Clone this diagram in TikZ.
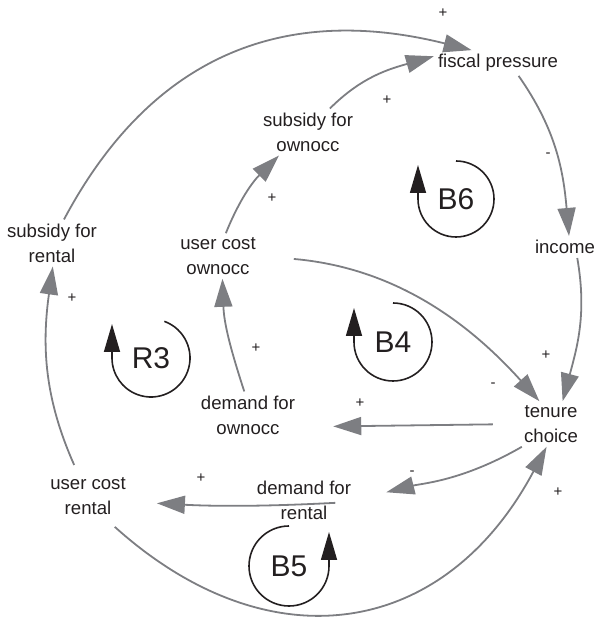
\documentclass[tikz,border=0pt]{standalone}
\usepackage{fontspec}
\setmainfont{Liberation Sans}
\usetikzlibrary{arrows.meta}
\definecolor{linkgray}{RGB}{125,126,130}
\definecolor{ink}{RGB}{35,31,32}

\tikzset{
  var/.style={align=center, inner sep=4pt, text=ink, font=\fontsize{18.6}{25}\selectfont},
  link/.style={draw=linkgray, line width=1.8pt, -{Triangle[length=28pt,width=18pt]}},
  pol/.style={text=ink, font=\fontsize{15}{15}\selectfont},
  loopsign/.style={text=ink, font=\fontsize{30}{30}\selectfont},
  looparrow/.style={draw=ink, line width=1.6pt, -{Triangle[length=28pt,width=16pt]}}
}

\begin{document}
\begin{tikzpicture}[x=1pt, y=1pt]
    \useasboundingbox (0,0) rectangle (604,618);

    %% variables
    \node[var] (fiscal) at (498,555) {fiscal pressure};
    \node[var] (income) at (565,371) {income};
    \node[var] (subown) at (308,486) {subsidy for\\ownocc};
    \node[var] (ucown) at (218,362) {user cost\\ownocc};
    \node[var] (demown) at (248,203) {demand for\\ownocc};
    \node[var] (subrent) at (52,375) {subsidy for\\rental};
    \node[var] (ucrent) at (88,122) {user cost\\rental};
    \node[var] (demrent) at (304,118) {demand for\\rental};
    \node[var] (tenure) at (551,194) {tenure\\choice};

    %% causal links
    \draw[link] (subrent.63) to[out=62, in=166, looseness=1.1] (fiscal.154);
    \draw[link] (subown.47) to[out=45, in=196] (fiscal.174);
    \draw[link] (fiscal.-32) to[out=-55, in=95] (income.70);
    \draw[link] (income.-42) to[out=-80, in=75] (tenure.63);
    \draw[link, shorten <=34pt] (ucown.east) to[out=-5, in=132] (tenure.117);
    \draw[link] (ucown.71) to[out=68, in=225] (subown.219);
    \draw[link] (demown.99) to[out=108, in=-88] (ucown.-79);
    \draw[link, shorten <=27pt, shorten >=34pt] (tenure.west) -- (demown.-13);
    \draw[link, shorten >=32pt] (tenure.218) to[out=210, in=14] (demrent.east);
    \draw[link, shorten <=20pt, shorten >=27pt] (demrent.-2) to[out=183, in=-3] (ucrent.-8);
    \draw[link, shorten <=9pt] (ucrent.114) to[out=114, in=-98] (subrent.-88);
    \draw[link, shorten <=12pt] (ucrent.-52) to[out=-42, in=-118, looseness=1.25] (tenure.-101);

    %% polarities
    \node[pol] (p1) at (443,605) {+};
    \node[pol] (p2) at (387,518) {+};
    \node[pol] (p3) at (548,463) {-};
    \node[pol] (p4) at (546,263) {+};
    \node[pol] (p5) at (493,233) {-};
    \node[pol] (p6) at (272,420) {+};
    \node[pol] (p7) at (256,270) {+};
    \node[pol] (p8) at (360,215) {+};
    \node[pol] (p9) at (412,145) {-};
    \node[pol] (p10) at (201,140) {+};
    \node[pol] (p11) at (72,320) {+};
    \node[pol] (p12) at (558,126) {+};

    %% loop markers
    \node[loopsign] (r3) at (151,260) {R3};
    \draw[looparrow] ([shift={(70:39pt)}]r3.center) arc[start angle=70, end angle=-180, radius=39pt] -- ++(0,34);
    \node[loopsign] (b4) at (393,276) {B4};
    \draw[looparrow] ([shift={(90:39pt)}]b4.center) arc[start angle=90, end angle=-180, radius=39pt] -- ++(0,34);
    \node[loopsign] (b6) at (456,419) {B6};
    \draw[looparrow] ([shift={(90:38pt)}]b6.center) arc[start angle=90, end angle=-180, radius=38pt] -- ++(0,34);
    \node[loopsign] (b5) at (289,52) {B5};
    \draw[looparrow] ([shift={(90:40pt)}]b5.center) arc[start angle=90, end angle=360, radius=40pt] -- ++(0,34);
\end{tikzpicture}
\end{document}
